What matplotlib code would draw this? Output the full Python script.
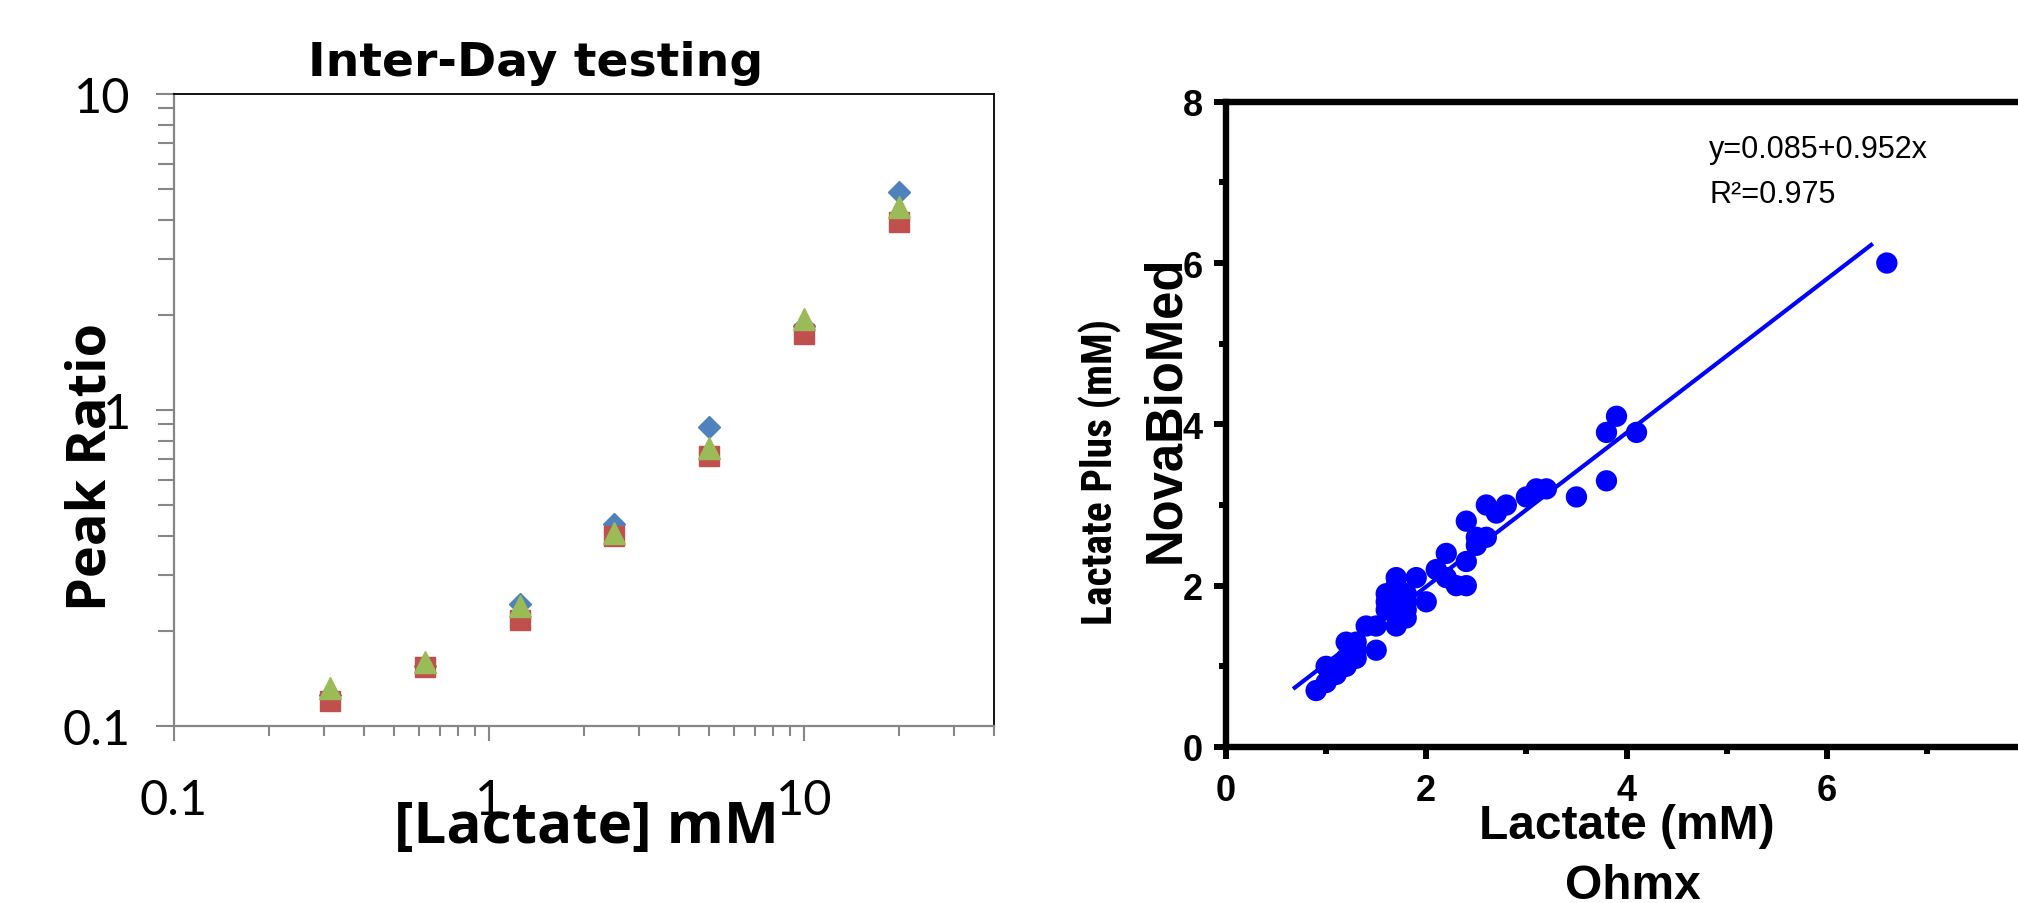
import os
import matplotlib
matplotlib.use("Agg")
import matplotlib.pyplot as plt
from matplotlib import font_manager as fm
from matplotlib.ticker import LogLocator, NullFormatter, FixedLocator

# ---------------- data ----------------
# Left panel: inter-day testing (log-log)
conc = [0.3125, 0.625, 1.25, 2.5, 5, 10, 20]
day1 = [0.125, 0.155, 0.243, 0.437, 0.885, 1.85, 4.89]
day2 = [0.120, 0.154, 0.216, 0.400, 0.714, 1.74, 3.94]
day3 = [0.132, 0.159, 0.239, 0.409, 0.760, 1.94, 4.40]
left_xticks = [0.1, 1, 10]
left_xticklabels = ["0.1", "1", "10"]
left_yticks = [0.1, 1, 10]
left_yticklabels = ["0.1", "1", "10"]

# Right panel: method comparison
ohmx = [0.9, 1.0, 1.0, 1.1, 1.1, 1.2, 1.2, 1.2, 1.3, 1.3, 1.3, 1.4, 1.5, 1.5,
        1.6, 1.6, 1.6, 1.7, 1.7, 1.7, 1.7, 1.7, 1.7, 1.8, 1.8, 1.8, 1.8, 1.9,
        2.0, 2.1, 2.2, 2.2, 2.3, 2.4, 2.4, 2.4, 2.5, 2.5, 2.6, 2.6, 2.7, 2.8,
        3.0, 3.1, 3.2, 3.5, 3.8, 3.8, 3.9, 4.1, 6.6]
nova = [0.7, 0.8, 1.0, 0.9, 1.0, 1.3, 1.1, 1.0, 1.1, 1.2, 1.3, 1.5, 1.2, 1.5,
        1.9, 1.8, 1.7, 2.1, 2.0, 1.9, 1.8, 1.7, 1.5, 1.9, 1.8, 1.7, 1.6, 2.1,
        1.8, 2.2, 2.4, 2.1, 2.0, 2.0, 2.3, 2.8, 2.5, 2.6, 2.6, 3.0, 2.9, 3.0,
        3.1, 3.2, 3.2, 3.1, 3.3, 3.9, 4.1, 3.9, 6.0]
fit_x = [0.67, 6.46]
fit_y = [0.72, 6.24]
right_ticks = [0, 2, 4, 6, 8]
right_minor = [1, 3, 5, 7]

# ---------------- figure ----------------
W, H = 2018, 904
fig = plt.figure(figsize=(W / 100, H / 100), dpi=100)
fig.patch.set_facecolor("white")

def fx(px):
    return px / W

def fy(py):
    return 1 - py / H

# look for a condensed bold sans font (used for one narrow label)
cond_prop = None
files = {os.path.basename(f.fname): f.fname for f in fm.fontManager.ttflist}
for cand in ("LiberationSansNarrow-Bold.ttf", "RobotoCondensed-Bold.ttf",
             "DejaVuSansCondensed-Bold.ttf", "OpenSans-CondensedBold.ttf",
             "NotoSans-CondensedBold.ttf"):
    if cand in files:
        cond_prop = cand
        break

BLUE = "#4F81BD"
RED = "#C0504D"
GREEN = "#9BBB59"
GRAY = "#868686"

# ---------- left panel ----------
ax1 = fig.add_axes([fx(174), fy(727), (993.6 - 174) / W, (727 - 95) / H])
ax1.set_xscale("log")
ax1.set_yscale("log")
ax1.plot(conc, day1, linestyle="none", marker="D", ms=11.5, color=BLUE,
         mec=BLUE, mew=1, zorder=3)
ax1.plot(conc, day2, linestyle="none", marker="s", ms=15, color=RED,
         mec=RED, mew=1, zorder=4)
ax1.plot(conc, day3, linestyle="none", marker="^", ms=16, color=GREEN,
         mec=GREEN, mew=1, zorder=5)
ax1.set_xlim(0.1, 40)
ax1.set_ylim(0.1, 10)

for side in ("top", "right"):
    ax1.spines[side].set_color("black")
    ax1.spines[side].set_linewidth(1.3)
for side in ("left", "bottom"):
    ax1.spines[side].set_color(GRAY)
    ax1.spines[side].set_linewidth(1.6)

ax1.xaxis.set_major_locator(FixedLocator(left_xticks))
ax1.yaxis.set_major_locator(FixedLocator(left_yticks))
ax1.set_xticklabels(left_xticklabels)
ax1.set_yticklabels(left_yticklabels)
ax1.xaxis.set_minor_locator(LogLocator(base=10, subs=range(2, 10)))
ax1.yaxis.set_minor_locator(LogLocator(base=10, subs=range(2, 10)))
ax1.xaxis.set_minor_formatter(NullFormatter())
ax1.yaxis.set_minor_formatter(NullFormatter())
ax1.tick_params(axis="both", which="both", direction="out", color=GRAY,
                width=1.5, top=False, right=False)
ax1.tick_params(axis="x", which="major", length=10.8, pad=27)
ax1.tick_params(axis="x", which="minor", length=7.2)
ax1.tick_params(axis="y", which="major", length=13, pad=18)
ax1.tick_params(axis="y", which="minor", length=11.5)
for lab in ax1.get_xticklabels() + ax1.get_yticklabels():
    lab.set_fontfamily("Lato")
    lab.set_fontsize(35)
    lab.set_color("black")

fig.text(fx(536), fy(76), "Inter-Day testing", ha="center", va="baseline",
         fontsize=34, fontweight="bold", family="DejaVu Sans")
fig.text(fx(586), fy(843), "[Lactate] mM", ha="center", va="baseline",
         fontsize=42, fontweight="bold", family="Open Sans")
fig.text(fx(106), fy(467), "Peak Ratio", ha="center", va="baseline",
         rotation=90, rotation_mode="anchor",
         fontsize=39, fontweight="bold", family="Open Sans")

# ---------- right panel ----------
ax2 = fig.add_axes([fx(1226), fy(748), 801 / W, (748 - 102.7) / H])
ax2.plot(fit_x, fit_y, color="#0000FF", lw=3, zorder=2,
         solid_capstyle="butt")
ax2.scatter(ohmx, nova, s=235, color="#0000FF", edgecolors="none", zorder=3)
ax2.set_xlim(0, 8)
ax2.set_ylim(0, 8)
for side in ax2.spines:
    ax2.spines[side].set_linewidth(4.6)
    ax2.spines[side].set_color("black")
ax2.set_xticks(right_ticks)
ax2.set_yticks(right_ticks)
ax2.set_xticks(right_minor, minor=True)
ax2.set_yticks(right_minor, minor=True)
ax2.tick_params(axis="both", which="both", direction="out", color="black",
                width=4.3, top=False, right=False)
ax2.tick_params(axis="both", which="major", length=8.8)
ax2.tick_params(axis="both", which="minor", length=4.7)
ax2.tick_params(axis="x", which="major", pad=10)
ax2.tick_params(axis="y", which="major", pad=8)
for lab in ax2.get_xticklabels() + ax2.get_yticklabels():
    lab.set_fontfamily("Liberation Sans")
    lab.set_fontweight("bold")
    lab.set_fontsize(26)

fig.text(fx(1709), fy(158), "y=0.085+0.952x", ha="left", va="baseline",
         fontsize=22, family="Liberation Sans")
fig.text(fx(1709), fy(203), "R\u00b2=0.975", ha="left", va="baseline",
         fontsize=22, family="Liberation Sans")

fig.text(fx(1627), fy(839), "Lactate (mM)", ha="center", va="baseline",
         fontsize=34.5, fontweight="bold", family="Liberation Sans")
fig.text(fx(1633), fy(899), "Ohmx", ha="center", va="baseline",
         fontsize=34.5, fontweight="bold", family="Liberation Sans")
fig.text(fx(1179), fy(409), "NovaBioMed", ha="center", va="baseline",
         rotation=90, rotation_mode="anchor",
         fontsize=36.5, fontweight="bold", family="Liberation Sans")
if cond_prop is not None:
    fig.text(fx(1113), fy(472), "Lactate Plus (mM)", ha="center",
             va="baseline", rotation=90, rotation_mode="anchor",
             fontproperties=fm.FontProperties(fname=files[cond_prop],
                                              size=30))
else:
    fig.text(fx(1113), fy(472), "Lactate Plus (mM)", ha="center",
             va="baseline", rotation=90, rotation_mode="anchor",
             fontsize=27, fontweight="bold", family="Liberation Sans")

fig.savefig("out.png", dpi=100, facecolor="white")
